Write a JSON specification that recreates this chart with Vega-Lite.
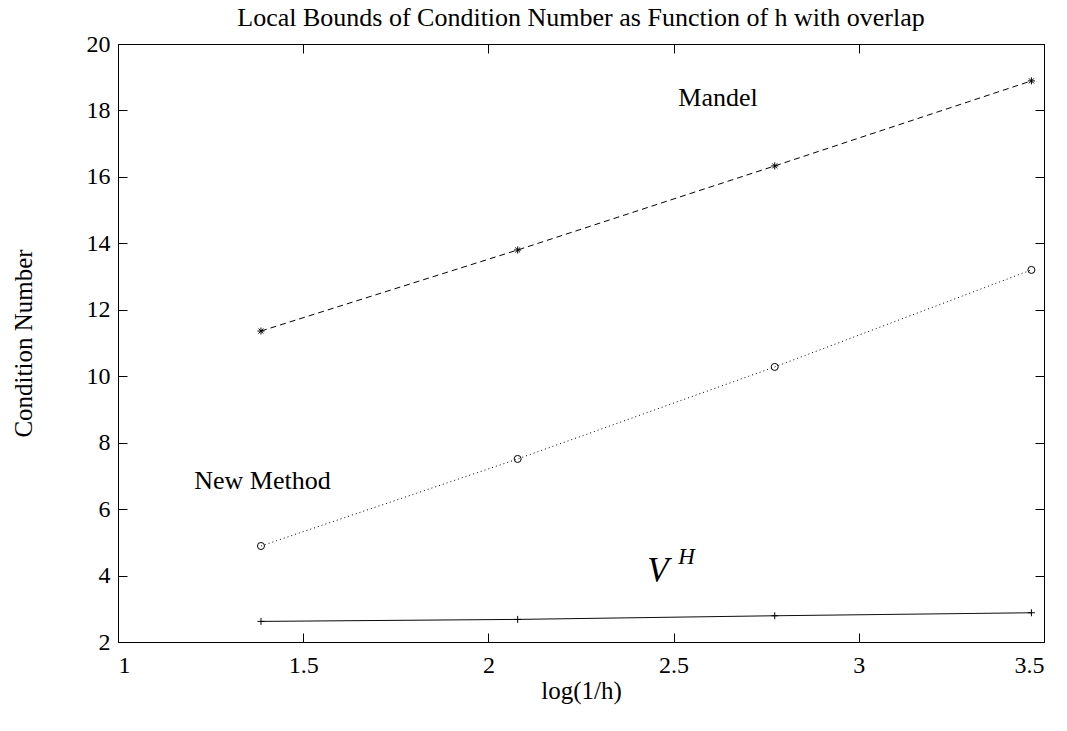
{
  "$schema": "https://vega.github.io/schema/vega-lite/v6.json",
  "width": 926,
  "height": 598,
  "autosize": {"type": "none"},
  "padding": {"left": 118, "top": 44, "right": 23, "bottom": 89},
  "background": "white",
  "config": {
    "font": "Liberation Serif",
    "view": {"stroke": null},
    "style": {"guide-label": {"font": "Liberation Serif", "fontSize": 24, "fill": "#000000"}, "guide-title": {"font": "Liberation Serif"}},
    "axis": {"grid": false, "domainColor": "#000000", "tickColor": "#000000", "labelColor": "#000000", "titleColor": "#000000", "labelFont": "Liberation Serif", "tickSize": -9, "domainWidth": 1, "tickWidth": 1}
  },
  "title": {"text": "Local Bounds of Condition Number as Function of h with overlap", "font": "Liberation Serif", "fontSize": 26, "fontWeight": "normal", "color": "#000000", "anchor": "middle", "offset": 10, "dy": 9},
  "datasets": {
    "series": [
      {"logInvH": 1.386, "cond": 11.36, "method": "Mandel"},
      {"logInvH": 2.079, "cond": 13.8, "method": "Mandel"},
      {"logInvH": 2.773, "cond": 16.33, "method": "Mandel"},
      {"logInvH": 3.466, "cond": 18.89, "method": "Mandel"},
      {"logInvH": 1.386, "cond": 4.89, "method": "New Method"},
      {"logInvH": 2.079, "cond": 7.51, "method": "New Method"},
      {"logInvH": 2.773, "cond": 10.28, "method": "New Method"},
      {"logInvH": 3.466, "cond": 13.2, "method": "New Method"},
      {"logInvH": 1.386, "cond": 2.62, "method": "VH"},
      {"logInvH": 2.079, "cond": 2.68, "method": "VH"},
      {"logInvH": 2.773, "cond": 2.79, "method": "VH"},
      {"logInvH": 3.466, "cond": 2.88, "method": "VH"}
    ],
    "labels": [
      {"x": 2.62, "y": 18.38, "label": "Mandel"},
      {"x": 1.39, "y": 6.85, "label": "New Method"}
    ],
    "vh": [
      {"x": 2.458, "y": 4.15, "label": "V", "size": 35},
      {"x": 2.535, "y": 4.56, "label": "H", "size": 23}
    ]
  },
  "resolve": {"axis": {"x": "independent", "y": "independent"}},
  "layer": [
    {
      "data": {"name": "series"},
      "mark": {"type": "line", "color": "#000000", "strokeWidth": 1},
      "encoding": {
        "x": {"field": "logInvH", "type": "quantitative", "scale": {"domain": [1, 3.5], "nice": false, "zero": false}, "axis": {"orient": "bottom", "values": [1, 1.5, 2, 2.5, 3, 3.5], "format": "~g", "labelFont": "Liberation Serif", "labelFontSize": 24, "labelPadding": 20, "labelBaseline": "top", "title": "log(1/h)", "titleFont": "Liberation Serif", "titleFontSize": 25, "titleFontWeight": "normal", "titleX": 463, "titleY": 48, "titleBaseline": "middle"}},
        "y": {"field": "cond", "type": "quantitative", "scale": {"domain": [2, 20], "nice": false, "zero": false}, "axis": {"orient": "left", "values": [2, 4, 6, 8, 10, 12, 14, 16, 18, 20], "format": "~g", "labelFont": "Liberation Serif", "labelFontSize": 24, "labelPadding": 17, "title": "Condition Number", "titleFont": "Liberation Serif", "titleFontSize": 25, "titleFontWeight": "normal", "titleX": -95, "titleY": 299, "titleAngle": -90, "titleBaseline": "middle"}},
        "detail": {"field": "method"},
        "strokeDash": {"field": "method", "type": "nominal", "scale": {"domain": ["Mandel", "New Method", "VH"], "range": [[6, 4], [1, 3], [1, 0]]}, "legend": null}
      }
    },
    {
      "data": {"name": "series"},
      "mark": {"type": "point", "filled": false, "color": "#000000", "strokeWidth": 1, "opacity": 1},
      "encoding": {
        "x": {"field": "logInvH", "type": "quantitative", "axis": null},
        "y": {"field": "cond", "type": "quantitative", "axis": null},
        "shape": {"field": "method", "type": "nominal", "scale": {"domain": ["Mandel", "New Method", "VH"], "range": ["M-1,0L1,0M0,-1L0,1M-0.7,-0.7L0.7,0.7M-0.7,0.7L0.7,-0.7", "circle", "M-1,0L1,0M0,-1L0,1"]}, "legend": null},
        "size": {"field": "method", "type": "nominal", "scale": {"domain": ["Mandel", "New Method", "VH"], "range": [50, 49, 64]}, "legend": null}
      }
    },
    {
      "data": {"name": "series"},
      "mark": {"type": "point", "opacity": 0},
      "encoding": {
        "x": {"field": "logInvH", "type": "quantitative", "axis": {"orient": "top", "values": [1, 1.5, 2, 2.5, 3, 3.5], "labels": false, "title": null}},
        "y": {"field": "cond", "type": "quantitative", "axis": {"orient": "right", "values": [2, 4, 6, 8, 10, 12, 14, 16, 18, 20], "labels": false, "title": null}}
      }
    },
    {
      "data": {"name": "labels"},
      "mark": {"type": "text", "font": "Liberation Serif", "fontSize": 26, "color": "#000000", "align": "center", "baseline": "middle"},
      "encoding": {
        "x": {"field": "x", "type": "quantitative", "axis": null},
        "y": {"field": "y", "type": "quantitative", "axis": null},
        "text": {"field": "label"}
      }
    },
    {
      "data": {"name": "vh"},
      "mark": {"type": "text", "font": "Liberation Serif", "fontStyle": "italic", "color": "#000000", "align": "center", "baseline": "middle"},
      "encoding": {
        "x": {"field": "x", "type": "quantitative", "axis": null},
        "y": {"field": "y", "type": "quantitative", "axis": null},
        "text": {"field": "label"},
        "size": {"field": "size", "type": "quantitative", "scale": null, "legend": null}
      }
    }
  ]
}
